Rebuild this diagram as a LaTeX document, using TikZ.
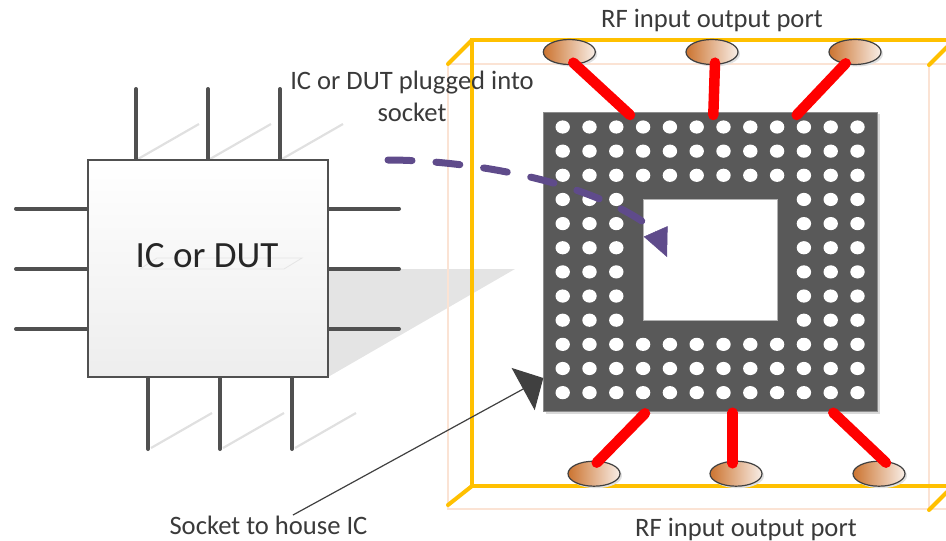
\documentclass[tikz,border=0pt]{standalone}
\usepackage{fontspec}
\setmainfont{Carlito}
\usetikzlibrary{arrows.meta,shapes.geometric}
\definecolor{boxyellow}{HTML}{FFC000}
\definecolor{boxpink}{HTML}{FBE3D4}
\definecolor{socketgrey}{HTML}{595959}
\definecolor{pingrey}{HTML}{505050}
\definecolor{chipshadow}{HTML}{E4E4E4}
\definecolor{pinshade}{HTML}{E0E0E0}
\definecolor{purplearrow}{HTML}{5F4B8B}
\definecolor{labelgrey}{HTML}{3A3A3A}
\definecolor{portleft}{HTML}{CC7430}
\definecolor{portright}{HTML}{F8EEE7}
\tikzset{
  pin/.style={draw=pingrey,line width=4pt,line cap=round},
  pinshadow/.style={draw=pinshade,line width=2.2pt},
  chip/.style={draw=pingrey,line width=2.2pt,top color=white,bottom color=black!7,inner sep=0pt,outer sep=0pt,anchor=north west,minimum width=240.3pt,minimum height=216.7pt},
  yellowline/.style={draw=boxyellow,line width=4pt},
  pinkline/.style={draw=boxpink,line width=2.4pt},
  socketbody/.style={fill=socketgrey,draw=black!45,line width=.6pt,inner sep=0pt,outer sep=0pt,anchor=north west,minimum width=334.2pt,minimum height=299.7pt},
  socketwindow/.style={fill=white,draw=black!30,line width=.6pt,inner sep=0pt,outer sep=0pt,anchor=north west,minimum width=133.7pt,minimum height=120.7pt},
  port/.style={ellipse,draw=black!75,line width=1.2pt,left color=portleft,right color=portright,minimum width=52pt,minimum height=25pt,inner sep=0pt},
  portshadow/.style={fill=black!12,draw=none},
  rfline/.style={draw=red,line width=10.5pt,line cap=round},
  label/.style={text=labelgrey,font=\fontsize{26.6}{32}\selectfont,inner sep=0pt,align=center},
}
\begin{document}
\begin{tikzpicture}[x=1pt,y=-1pt]
\useasboundingbox (0,0) rectangle (946,541);
\clip (0,0) rectangle (946,541);
% chip shadow
\fill[chipshadow] (328,269) -- (515,269) -- (328,377) -- cycle;
% pin shadows
\foreach \px in {138,210,282} \draw[pinshadow] (\px,159) -- (\px+61,124);
\foreach \px in {151,223,295} \draw[pinshadow] (\px,448) -- (\px+61,413);
% outer box
\draw[pinkline] (946,64) -- (448,64) -- (448,509) -- (946,509);
\draw[pinkline] (929,64) -- (929,509);
\draw[yellowline] (946,40) -- (472,40) -- (472,486) -- (946,486);
\draw[yellowline,line cap=round] (472,40) -- (448,64);
\draw[yellowline,line cap=round] (472,486) -- (448,505);
\draw[yellowline,line cap=round] (929,65) -- (947,47);
\draw[yellowline,line cap=round] (929,510) -- (947,492);
% chip pins
\foreach \px in {136,208,280} \draw[pin] (\px,89) -- (\px,160);
\foreach \px in {148,220,292} \draw[pin] (\px,377) -- (\px,449);
\foreach \py in {208.5,269,329} {
  \draw[pin] (16,\py) -- (88,\py);
  \draw[pin] (328,\py) -- (399,\py);
}
% chip
\node[chip] (ic) at (88,160.3) {};
\draw[black!10,line width=.8pt] (140,269) -- (157,258) -- (302,258) -- (284,269) -- cycle;
\node[text=black!85,font=\fontsize{37}{42}\selectfont,inner sep=0pt] (iclabel) at (207,256) {IC or DUT};
% socket
\fill[black!15] (546,114) rectangle (880,414);
\node[socketbody] (socket) at (543.5,112) {};
\node[socketwindow] (window) at (643.3,199.3) {};
\foreach \c in {0,...,11}
  \foreach \r in {0,...,11} {
    \pgfmathtruncatemacro{\inhole}{and(and(\c>2,\c<9),and(\r>2,\r<9))}
    \ifnum\inhole=0
      \fill[white] ({562.7+26.8*\c},{127+24.15*\r}) ellipse [x radius=7.2pt,y radius=6.6pt];
    \fi
  }
% ports
\foreach \nm/\px/\py in {pa/569.3/52,pb/712/52,pc/855/52,pd/594/473.7,pe/736/473.7,pf/879/473.7} {
  \fill[portshadow] (\px+2,\py+2) ellipse [x radius=26pt,y radius=12.5pt];
  \node[port] (\nm) at (\px,\py) {};
}
% connection ends on the socket
\coordinate (sa) at (630,115);
\coordinate (sb) at (713.3,115);
\coordinate (sc) at (796.7,115);
\coordinate (sd) at (645,413.3);
\coordinate (se) at (732.7,412.7);
\coordinate (sf) at (833.3,412.7);
\coordinate (ta) at (573.3,62.7);
\coordinate (tb) at (715,62.7);
\coordinate (tc) at (845.7,63.3);
\coordinate (td) at (596.7,462.7);
\coordinate (te) at (732.7,463.3);
\coordinate (tf) at (886,462.7);
\foreach \u/\v in {ta/sa,tb/sb,tc/sc,td/sd,te/se,tf/sf} \draw[rfline] (\u) -- (\v);
% purple dashed arrow
\coordinate (dashstart) at (388,160);
\coordinate (dashend) at (655.5,231);
\coordinate (dashtip) at (667,257);
\draw[draw=purplearrow,line width=7pt,line cap=round,dash pattern=on 24pt off 24pt]
  (dashstart) .. controls (460,160) and (590,178) .. (dashend);
\draw[draw=purplearrow,line width=.5pt,-{Triangle[length=28pt,width=26pt,fill=purplearrow]}] (dashend) -- (dashtip);
% labels
\node[label] (toplabel) at (712,20) {RF input output port};
\node[label] (bottomlabel) at (746,529) {RF input output port};
\node[label] (pluglabel) at (412,96) {IC or DUT plugged into\\socket};
\node[label] (socketlabel) at (268.5,525) {Socket to house IC};
% socket arrow
\coordinate (sockettail) at (293,515);
\coordinate (sockettip) at (543.3,378);
\draw[draw=black!75,line width=1.2pt,-{Triangle[length=23pt,width=48pt,fill=black!75]}] (sockettail) -- (sockettip);
\end{tikzpicture}
\end{document}
